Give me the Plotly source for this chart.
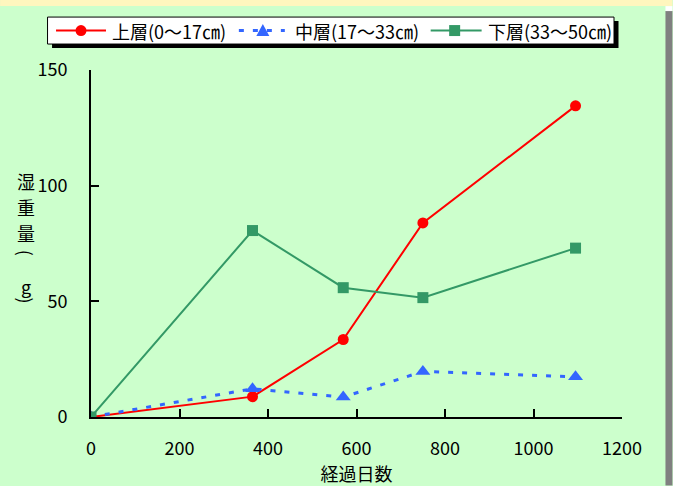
import plotly.graph_objects as go

days = [0, 365, 570, 750, 1095]
upper = [0, 8.8, 33.5, 83.9, 134.5]
middle = [0, 12.2, 8.6, 19.7, 17.4]
lower = [0, 80.6, 55.9, 51.6, 73.0]

names = ["上層(0～17㎝)", "中層(17～33㎝)", "下層(33～50㎝)"]
colors = ["#FF0000", "#3366FF", "#339966"]
x_ticks = [0, 200, 400, 600, 800, 1000, 1200]
y_ticks = [0, 50, 100, 150]
x_title = "経過日数"
y_title_chars = ["湿", "重", "量", "(", "g", ")"]

W, H = 673, 486
L, R, T, B = 91, 50.5, 70, 68.5
pw = W - L - R
ph = H - T - B

def px(x):
    return (x - L) / pw

def py(y):
    return (H - B - y) / ph

FONT = "Noto Sans CJK JP"

fig = go.Figure()
fig.add_trace(go.Scatter(x=days, y=upper, name=names[0], mode="lines+markers",
                         line=dict(color=colors[0], width=2),
                         marker=dict(symbol="circle", size=11, color=colors[0])))
fig.add_trace(go.Scatter(x=days, y=middle, name=names[1], mode="lines+markers",
                         line=dict(color=colors[1], width=3, dash="5px,9px"),
                         marker=dict(symbol="triangle-up", size=13, color=colors[1])))
fig.add_trace(go.Scatter(x=days, y=lower, name=names[2], mode="lines+markers",
                         line=dict(color=colors[2], width=2),
                         marker=dict(symbol="square", size=11, color=colors[2])))

def prect(x0, y0, x1, y1, kind="rect", **kw):
    return dict(type=kind, xref="paper", yref="paper", x0=px(x0), x1=px(x1),
                y0=py(y1), y1=py(y0), **kw)

shapes = [
    prect(0, 0, W, 6, fillcolor="#FFF6BE", line=dict(width=0), layer="below"),
    prect(666, 11, W, H, fillcolor="#808080", line=dict(width=0), layer="below"),
    prect(666, 6, W, 11, fillcolor="#FFFFFF", line=dict(width=0), layer="below"),
    # legend: shadow and box
    prect(52, 21, 619, 48, fillcolor="#000000", line=dict(width=0), layer="above"),
    prect(47.5, 17, 614.5, 44, fillcolor="#FFFFFF", line=dict(width=1, color="#000000"), layer="above"),
]

LY = 30.5
# legend sample geometry: (line start, line end, marker center, text left)
leg = [(56, 106, 81, 111), (239, 285, 263, 294), (431, 482, 455, 487)]
for i, (a, b, m, t) in enumerate(leg):
    dash = "5px,9px" if i == 1 else "solid"
    lw = 3 if i == 1 else 2
    shapes.append(dict(type="line", xref="paper", yref="paper", x0=px(a), x1=px(b),
                       y0=py(LY), y1=py(LY), line=dict(color=colors[i], width=lw, dash=dash),
                       layer="above"))
    if i == 0:
        shapes.append(prect(m - 5.5, LY - 5.5, m + 5.5, LY + 5.5, kind="circle",
                            fillcolor=colors[i], line=dict(width=0), layer="above"))
    elif i == 1:
        path = "M {} {} L {} {} L {} {} Z".format(px(m - 6.5), py(LY + 5.5), px(m + 6.5), py(LY + 5.5),
                                                   px(m), py(LY - 6.5))
        shapes.append(dict(type="path", xref="paper", yref="paper", path=path,
                           fillcolor=colors[i], line=dict(width=0), layer="above"))
    else:
        shapes.append(prect(m - 5.5, LY - 5.5, m + 5.5, LY + 5.5,
                            fillcolor=colors[i], line=dict(width=0), layer="above"))

annotations = []
for i, (a, b, m, t) in enumerate(leg):
    annotations.append(dict(text=names[i], xref="paper", yref="paper", x=px(t - 1), y=py(LY),
                            xanchor="left", yanchor="middle", showarrow=False,
                            font=dict(family=FONT, size=18, color="#000000")))

ychar_pos = [181, 207, 233, 253, 286, 301]
for ch, yp in zip(y_title_chars, ychar_pos):
    rot = ch in ("(", ")")
    annotations.append(dict(text=ch, xref="paper", yref="paper", x=px(26), y=py(yp),
                            xanchor="center", yanchor="middle", showarrow=False,
                            textangle=90 if rot else 0,
                            font=dict(family=FONT, size=18, color="#000000")))

fig.update_layout(
    width=W, height=H,
    margin=dict(l=L, r=R, t=T, b=B),
    paper_bgcolor="#CCFFCC", plot_bgcolor="#CCFFCC",
    font=dict(family=FONT, size=18, color="#000000"),
    showlegend=False,
    shapes=shapes,
    annotations=annotations,
    xaxis=dict(range=[0, 1200], tickvals=x_ticks, ticks="inside", ticklen=8, tickwidth=2,
               tickcolor="#000000", showline=True, linecolor="#000000", linewidth=2,
               showgrid=False, zeroline=False, ticklabelstandoff=14,
               tickfont=dict(family=FONT, size=18),
               title=dict(text=x_title, font=dict(family=FONT, size=18), standoff=0)),
    yaxis=dict(range=[0, 150], tickvals=y_ticks, ticks="inside", ticklen=8, tickwidth=2,
               tickcolor="#000000", showline=True, linecolor="#000000", linewidth=2,
               showgrid=False, zeroline=False, ticklabelstandoff=18,
               tickfont=dict(family=FONT, size=18)),
)

fig.write_html("out.html", config={"displayModeBar": False},
               post_script="document.body.style.margin='0';document.body.style.overflow='hidden';")
